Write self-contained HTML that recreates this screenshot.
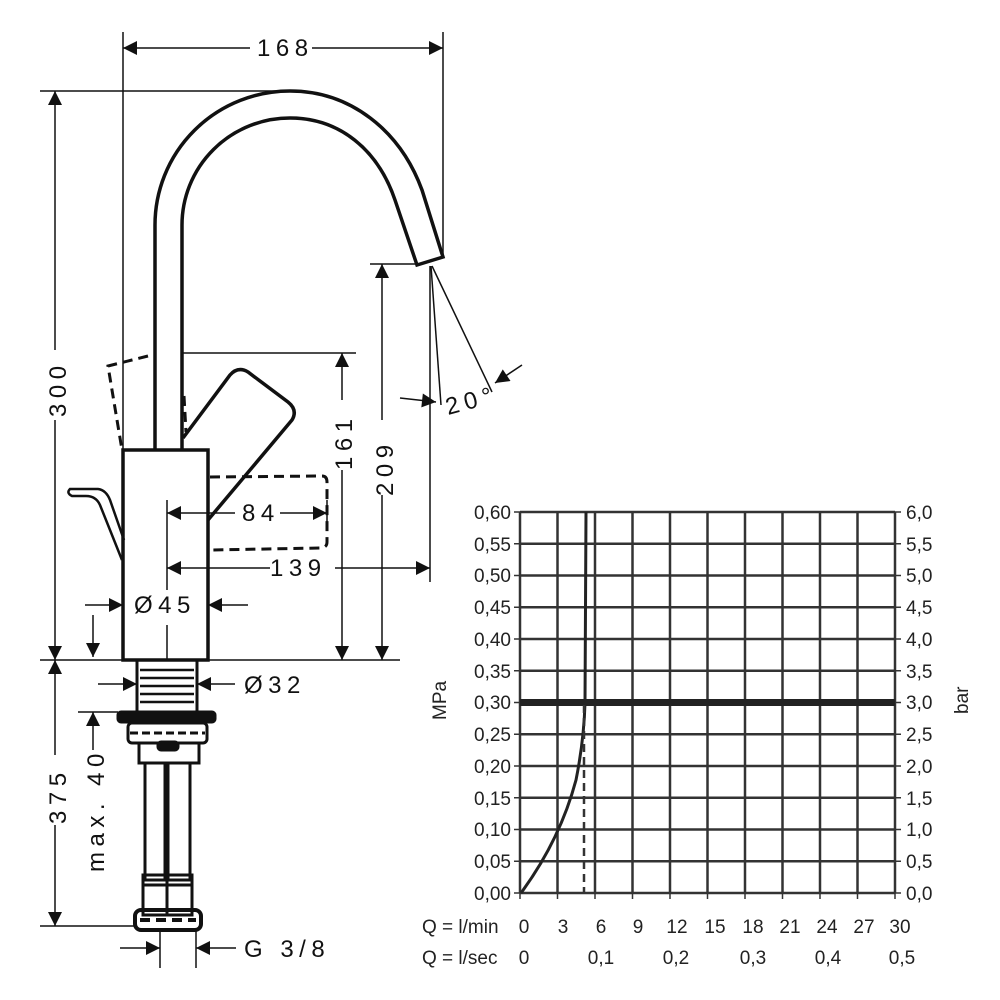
<!DOCTYPE html>
<html><head><meta charset="utf-8"><style>
html,body{margin:0;padding:0;background:#fff}
svg{display:block}
.d{font-family:"Liberation Sans",sans-serif;font-size:24px;fill:#111;letter-spacing:5.5px}
.c{font-family:"Liberation Sans",sans-serif;font-size:19px;fill:#222}
</style></head><body>
<svg width="1000" height="1000" viewBox="0 0 1000 1000" xmlns="http://www.w3.org/2000/svg">
<defs>
<marker id="a" viewBox="0 0 10 10" refX="10" refY="5" markerWidth="18" markerHeight="14" markerUnits="userSpaceOnUse" orient="auto-start-reverse"><path d="M0,0L10,5L0,10z" fill="#111"/></marker>
</defs>
<g stroke="#111" fill="none">
<g stroke-width="1.5">
<line x1="123" y1="32" x2="123" y2="450"/>
<line x1="443" y1="32" x2="443" y2="258"/>
<line x1="40" y1="91" x2="290" y2="91"/>
<line x1="182" y1="353" x2="356" y2="353"/>
<line x1="370" y1="264" x2="417" y2="264"/>
<line x1="430" y1="266" x2="430" y2="582"/>
<line x1="40" y1="660" x2="400" y2="660"/>
<line x1="167" y1="500" x2="167" y2="590"/>
<line x1="167" y1="625" x2="167" y2="660"/>
<line x1="40" y1="926" x2="135" y2="926"/>
<line x1="78" y1="712" x2="118" y2="712"/>
<line x1="160" y1="930" x2="160" y2="968"/>
<line x1="196" y1="930" x2="196" y2="968"/>
<line x1="327" y1="500" x2="327" y2="525"/>
</g>
<g stroke-width="1.5">
<line x1="123" y1="48" x2="250" y2="48" marker-start="url(#a)"/>
<line x1="312" y1="48" x2="443" y2="48" marker-end="url(#a)"/>
<line x1="55" y1="91" x2="55" y2="350" marker-start="url(#a)"/>
<line x1="55" y1="420" x2="55" y2="660" marker-end="url(#a)"/>
<line x1="55" y1="660" x2="55" y2="755" marker-start="url(#a)"/>
<line x1="55" y1="825" x2="55" y2="926" marker-end="url(#a)"/>
<line x1="342" y1="353" x2="342" y2="400" marker-start="url(#a)"/>
<line x1="342" y1="470" x2="342" y2="660" marker-end="url(#a)"/>
<line x1="382" y1="264" x2="382" y2="420" marker-start="url(#a)"/>
<line x1="382" y1="495" x2="382" y2="660" marker-end="url(#a)"/>
<line x1="167" y1="513" x2="235" y2="513" marker-start="url(#a)"/>
<line x1="280" y1="513" x2="327" y2="513" marker-end="url(#a)"/>
<line x1="167" y1="568" x2="270" y2="568" marker-start="url(#a)"/>
<line x1="335" y1="568" x2="430" y2="568" marker-end="url(#a)"/>
<line x1="85" y1="605" x2="123" y2="605" marker-end="url(#a)"/>
<line x1="248" y1="605" x2="208" y2="605" marker-end="url(#a)"/>
<line x1="93" y1="615" x2="93" y2="657" marker-end="url(#a)"/>
<line x1="98" y1="684" x2="137" y2="684" marker-end="url(#a)"/>
<line x1="235" y1="684" x2="197" y2="684" marker-end="url(#a)"/>
<line x1="93" y1="750" x2="93" y2="712" marker-end="url(#a)"/>
<line x1="120" y1="948" x2="160" y2="948" marker-end="url(#a)"/>
<line x1="236" y1="948" x2="196" y2="948" marker-end="url(#a)"/>
<line x1="400" y1="398" x2="436" y2="402" marker-end="url(#a)"/>
<line x1="522" y1="365" x2="495" y2="383" marker-end="url(#a)"/>
<line x1="431" y1="266" x2="441" y2="405"/>
<line x1="432" y1="266" x2="492" y2="392"/>
</g>
<g stroke-width="3.5">
<path d="M155,450 L155,225 A135,134 0 0 1 290,91 C350,91 400,130 422,190 L443,257 L417,265 L395,200 C378,150 340,118 290,118 A108,107 0 0 0 182,225 L182,450"/>
<rect x="123" y="450" width="85" height="210"/>
<path d="M208,520 L292,420 Q298,410 288,402 L248,372 Q238,366 230,375 L183,438"/>
<path d="M122,560 L100,505 Q96,496 86,496 L72,496 Q66,493 70,489 L98,489 Q106,490 110,500 L124,540" stroke-width="2.5"/>
</g>
<g stroke-width="3" stroke-dasharray="10,6">
<path d="M148,356 L108,366 L122,450"/>
<path d="M184,396 L186,432"/>
<path d="M210,477 L322,476 Q327,476 327,482 L327,542 Q327,548 320,548 L210,550"/>
</g>
<g stroke-width="3">
<rect x="137" y="660" width="60" height="52"/>
<g stroke-width="2.5"><line x1="140" y1="670" x2="194" y2="670"/><line x1="140" y1="678" x2="194" y2="678"/><line x1="140" y1="686" x2="194" y2="686"/><line x1="140" y1="694" x2="194" y2="694"/><line x1="140" y1="702" x2="194" y2="702"/></g>
<rect x="118" y="712" width="97" height="10" rx="3" fill="#111"/>
<rect x="128" y="723" width="79" height="20" rx="4"/>
<line x1="130" y1="733" x2="205" y2="733" stroke-dasharray="8,4"/>
<rect x="139" y="743" width="60" height="20"/>
<rect x="158" y="742" width="20" height="8" rx="3" fill="#111"/>
<rect x="145" y="763" width="20" height="117"/>
<rect x="168" y="763" width="22" height="117"/>
<rect x="143" y="875" width="24" height="40"/>
<rect x="167" y="875" width="25" height="40"/>
<line x1="143" y1="885" x2="192" y2="885"/>
<rect x="135" y="910" width="66" height="20" rx="6" stroke-width="4"/>
<line x1="140" y1="920" x2="196" y2="920" stroke-width="4" stroke-dasharray="10,6"/>
</g>
</g>
<text class="d" x="257" y="56">168</text>
<text class="d" x="242" y="521">84</text>
<text class="d" x="270" y="576">139</text>
<text class="d" x="134" y="613">Ø45</text>
<text class="d" x="244" y="693">Ø32</text>
<text class="d" x="244" y="957">G 3/8</text>
<text class="d" transform="translate(448,415) rotate(-15)">20°</text>
<text class="d" transform="translate(66,417) rotate(-90)">300</text>
<text class="d" transform="translate(66,824) rotate(-90)">375</text>
<text class="d" transform="translate(104,872) rotate(-90)">max. 40</text>
<text class="d" transform="translate(352,470) rotate(-90)">161</text>
<text class="d" transform="translate(393,496) rotate(-90)">209</text>

<g stroke="#333" stroke-width="2.5" fill="none">
<path d="M520,512V893M557.5,512V893M595,512V893M632.5,512V893M670,512V893M707.5,512V893M745,512V893M782.5,512V893M820,512V893M857.5,512V893M895,512V893"/>
<path d="M520,512H895M520,543.75H895M520,575.5H895M520,607.25H895M520,639H895M520,670.75H895M520,734.25H895M520,766H895M520,797.75H895M520,829.5H895M520,861.25H895M520,893H895"/>
<path d="M514,512h6M514,543.75h6M514,575.5h6M514,607.25h6M514,639h6M514,670.75h6M514,702.5h6M514,734.25h6M514,766h6M514,797.75h6M514,829.5h6M514,861.25h6M514,893h6" stroke-width="1.5"/>
<path d="M895,512h6M895,543.75h6M895,575.5h6M895,607.25h6M895,639h6M895,670.75h6M895,702.5h6M895,734.25h6M895,766h6M895,797.75h6M895,829.5h6M895,861.25h6M895,893h6" stroke-width="1.5"/>
<path d="M520,893v6M557.5,893v6M595,893v6M632.5,893v6M670,893v6M707.5,893v6M745,893v6M782.5,893v6M820,893v6M857.5,893v6M895,893v6" stroke-width="1.5"/>
<line x1="520" y1="702.5" x2="895" y2="702.5" stroke="#222" stroke-width="7"/>
<path d="M521,893 Q560,840 576,780 Q584,740 585,703 L586,512" stroke="#222" stroke-width="3"/>
<line x1="584" y1="705" x2="584" y2="893" stroke-width="2.5" stroke-dasharray="8,5"/>
</g>
<g class="c" text-anchor="end">
<text x="511" y="519">0,60</text><text x="511" y="551">0,55</text><text x="511" y="582">0,50</text><text x="511" y="614">0,45</text><text x="511" y="646">0,40</text><text x="511" y="678">0,35</text><text x="511" y="709">0,30</text><text x="511" y="741">0,25</text><text x="511" y="773">0,20</text><text x="511" y="805">0,15</text><text x="511" y="836">0,10</text><text x="511" y="868">0,05</text><text x="511" y="900">0,00</text>
</g>
<g class="c">
<text x="906" y="519">6,0</text><text x="906" y="551">5,5</text><text x="906" y="582">5,0</text><text x="906" y="614">4,5</text><text x="906" y="646">4,0</text><text x="906" y="678">3,5</text><text x="906" y="709">3,0</text><text x="906" y="741">2,5</text><text x="906" y="773">2,0</text><text x="906" y="805">1,5</text><text x="906" y="836">1,0</text><text x="906" y="868">0,5</text><text x="906" y="900">0,0</text>
<text transform="translate(446,720) rotate(-90)">MPa</text>
<text transform="translate(968,714) rotate(-90)">bar</text>
<text x="422" y="933">Q = l/min</text>
<text x="422" y="964">Q = l/sec</text>
</g>
<g class="c" text-anchor="middle">
<text x="524" y="933">0</text><text x="563" y="933">3</text><text x="601" y="933">6</text><text x="638" y="933">9</text><text x="677" y="933">12</text><text x="715" y="933">15</text><text x="753" y="933">18</text><text x="790" y="933">21</text><text x="827" y="933">24</text><text x="864" y="933">27</text><text x="900" y="933">30</text>
<text x="524" y="964">0</text><text x="601" y="964">0,1</text><text x="676" y="964">0,2</text><text x="753" y="964">0,3</text><text x="828" y="964">0,4</text><text x="902" y="964">0,5</text>
</g>
</svg>
</body></html>
